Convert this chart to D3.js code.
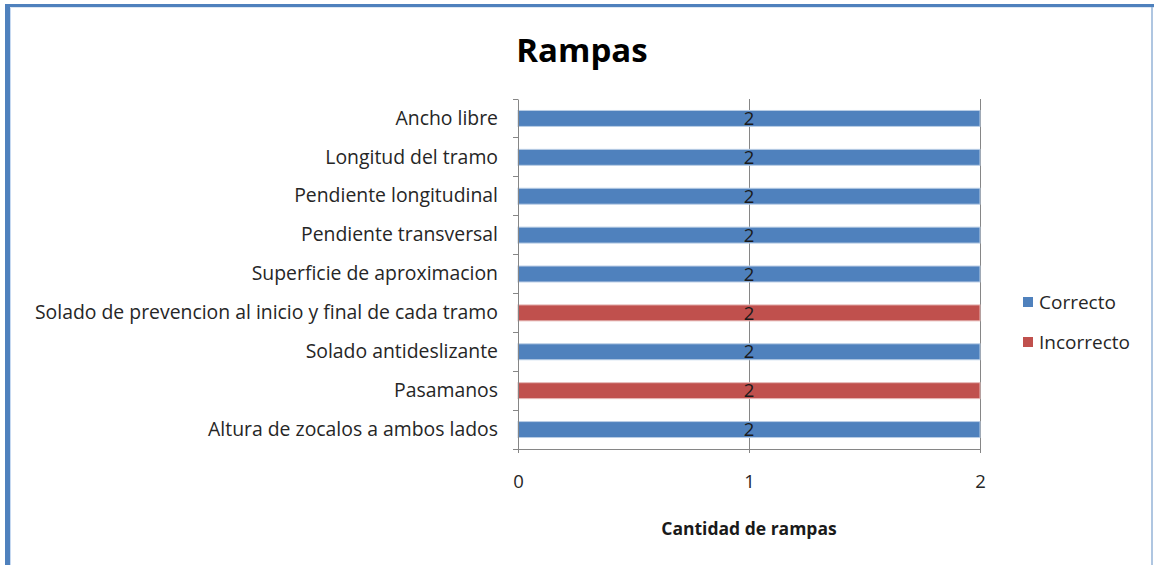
<!DOCTYPE html>
<html>
<head>
<meta charset="utf-8">
<script src="https://cdn.jsdelivr.net/npm/d3@7"></script>
<style>
  html, body { margin: 0; padding: 0; background: #fff; }
  svg { display: block; }
  text { font-family: "Open Sans", "Liberation Sans", sans-serif; }
</style>
</head>
<body>
<svg id="chart" width="1154" height="565"></svg>
<script>
const title = "Rampas";
const xAxisTitle = "Cantidad de rampas";
const categories = [
  "Ancho libre",
  "Longitud del tramo",
  "Pendiente longitudinal",
  "Pendiente transversal",
  "Superficie de aproximacion",
  "Solado de prevencion al inicio y final de cada tramo",
  "Solado antideslizante",
  "Pasamanos",
  "Altura de zocalos a ambos lados"
];
const seriesNames = ["Correcto", "Incorrecto"];
const correcto   = [2, 2, 2, 2, 2, 0, 2, 0, 2];
const incorrecto = [0, 0, 0, 0, 0, 2, 0, 2, 0];
const xTicks = [0, 1, 2];
const colors = ["#4F81BD", "#C0504D"];
const edgeColors = ["#B9CDE5", "#E6B9B8"];

const svg = d3.select("#chart");
const W = 1154, H = 565;
const plot = { left: 518, right: 980, top: 99, bottom: 449 };

// frame
svg.append("rect").attr("x", 0).attr("y", 0).attr("width", W).attr("height", H).attr("fill", "#fff");
svg.append("line").attr("x1", 7.5).attr("x2", 7.5).attr("y1", 4).attr("y2", H).attr("stroke", "#4F81BD").attr("stroke-width", 5);
svg.append("line").attr("x1", 10.5).attr("x2", 10.5).attr("y1", 8).attr("y2", H).attr("stroke", "#C6D9F1").attr("stroke-width", 1);
svg.append("line").attr("x1", 5).attr("x2", W).attr("y1", 5.5).attr("y2", 5.5).attr("stroke", "#4F81BD").attr("stroke-width", 3);
svg.append("line").attr("x1", 10).attr("x2", W).attr("y1", 7.5).attr("y2", 7.5).attr("stroke", "#DCE6F2").attr("stroke-width", 1);
svg.append("line").attr("x1", 1152).attr("x2", 1152).attr("y1", 7).attr("y2", H).attr("stroke", "#95B3D7").attr("stroke-width", 1.5);

const x = d3.scaleLinear().domain([0, 2]).range([plot.left, plot.right]);
const y = d3.scaleBand().domain(categories).range([plot.top, plot.bottom]).paddingInner(0.59).paddingOuter(0.295);
const yb = d3.scaleBand().domain(categories).range([plot.top, plot.bottom]);

// gridlines
svg.append("g").selectAll("line").data(xTicks.filter(d => d > 0)).join("line")
  .attr("x1", d => x(d)).attr("x2", d => x(d))
  .attr("y1", plot.top).attr("y2", plot.bottom)
  .attr("stroke", "#868686").attr("stroke-width", 1).attr("shape-rendering", "crispEdges");

// stacked bars
const rows = categories.map((c, i) => ({ cat: c, Correcto: correcto[i], Incorrecto: incorrecto[i] }));
const stack = d3.stack().keys(seriesNames)(rows);
stack.forEach((layer, si) => {
  svg.append("g").selectAll("rect").data(layer.filter(d => d[1] - d[0] > 0)).join("rect")
    .attr("x", d => x(d[0]))
    .attr("y", d => y(d.data.cat))
    .attr("width", d => x(d[1]) - x(d[0]))
    .attr("height", y.bandwidth())
    .attr("fill", colors[si])
    .attr("stroke", edgeColors[si]).attr("stroke-width", 1);
});

// data labels
stack.forEach((layer) => {
  svg.append("g").selectAll("text").data(layer.filter(d => d[1] - d[0] > 0)).join("text")
    .attr("x", d => x((d[0] + d[1]) / 2))
    .attr("y", d => y(d.data.cat) + y.bandwidth() / 2)
    .attr("dy", "0.36em")
    .attr("text-anchor", "middle")
    .attr("font-size", 18.5).attr("fill", "#1a1a1a")
    .text(d => d[1] - d[0]);
});

// y axis
const yAxis = d3.axisLeft(yb).tickSize(0).tickPadding(20).tickFormat(d => d);
const gy = svg.append("g").attr("transform", `translate(${plot.left},0)`).call(yAxis);
gy.select(".domain").attr("stroke", "#868686");
gy.selectAll(".tick text").attr("font-size", 19.4).attr("fill", "#262626").attr("font-family", "Open Sans");
// category boundary tick marks
svg.append("g").selectAll("line").data(d3.range(categories.length + 1)).join("line")
  .attr("x1", plot.left - 5).attr("x2", plot.left)
  .attr("y1", i => plot.top + i * yb.step()).attr("y2", i => plot.top + i * yb.step())
  .attr("stroke", "#868686").attr("shape-rendering", "crispEdges");

// x axis
const xAxis = d3.axisBottom(x).tickValues(xTicks).tickSize(4).tickPadding(22).tickFormat(d3.format("d"));
const gx = svg.append("g").attr("transform", `translate(0,${plot.bottom})`).call(xAxis);
gx.select(".domain").attr("stroke", "#868686");
gx.selectAll(".tick line").attr("stroke", "#868686");
gx.selectAll(".tick text").attr("font-size", 18.5).attr("fill", "#262626");

// titles
svg.append("text").attr("x", 582).attr("y", 62).attr("text-anchor", "middle")
  .attr("font-size", 33).attr("font-weight", "bold").attr("fill", "#000").text(title);
svg.append("text").attr("x", 749).attr("y", 535).attr("text-anchor", "middle")
  .attr("font-size", 17.5).attr("font-weight", "bold").attr("fill", "#1a1a1a").text(xAxisTitle);

// legend
const lg = svg.append("g").attr("transform", "translate(1023,302)");
seriesNames.forEach((s, i) => {
  const g = lg.append("g").attr("transform", `translate(0,${i * 40})`);
  g.append("rect").attr("x", 0).attr("y", -5).attr("width", 10).attr("height", 10).attr("fill", colors[i]);
  g.append("text").attr("x", 16).attr("y", 0).attr("dy", "0.35em").attr("font-size", 19).attr("fill", "#262626").text(s);
});
</script>
</body>
</html>
